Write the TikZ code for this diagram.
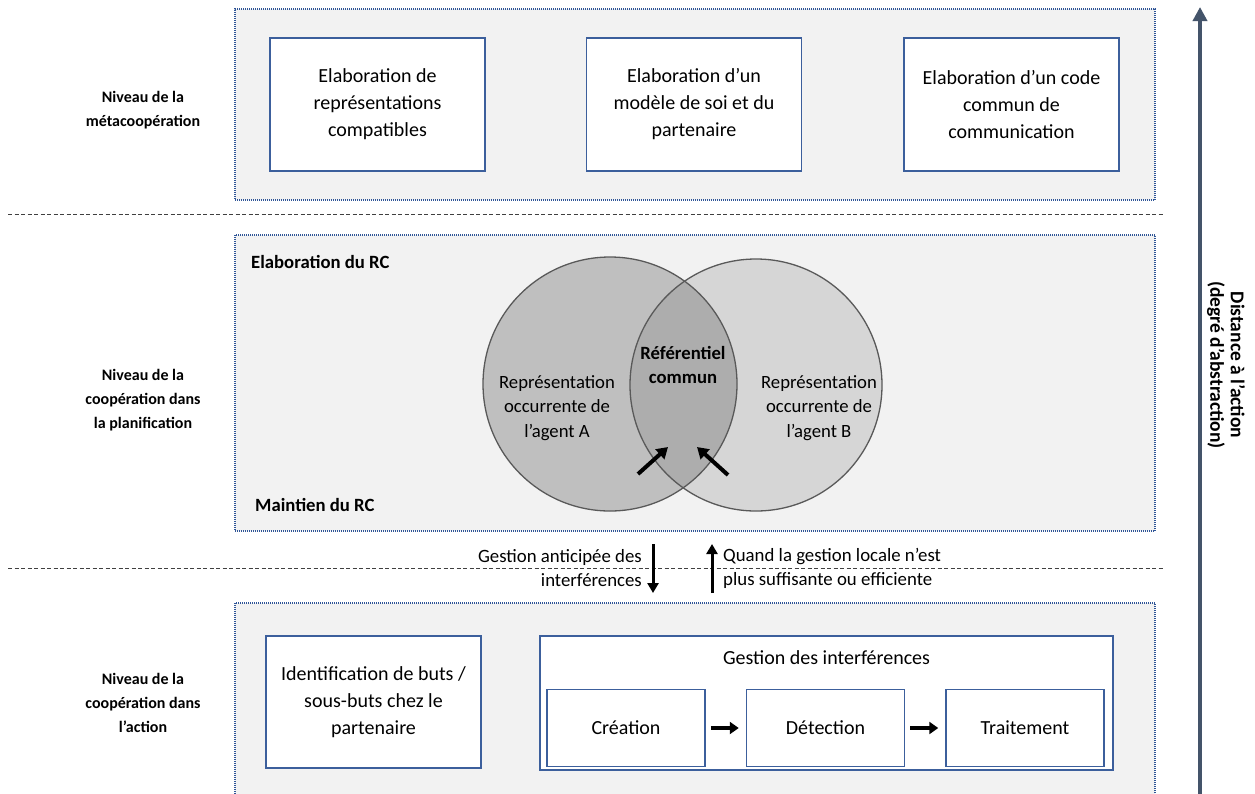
\documentclass[tikz,border=0pt]{standalone}
\usepackage{fontspec}
\setmainfont{Carlito}
\usetikzlibrary{arrows.meta}
\definecolor{panelfill}{HTML}{F2F2F2}
\definecolor{panelline}{HTML}{2F5597}
\definecolor{boxline}{HTML}{3C5F9C}
\definecolor{circline}{HTML}{595959}
\definecolor{circA}{HTML}{BFBFBF}
\definecolor{circB}{HTML}{D6D6D6}
\definecolor{circAB}{HTML}{ADADAD}
\definecolor{axiscol}{HTML}{44546A}
\definecolor{sepline}{HTML}{404040}
\begin{document}
\begin{tikzpicture}[x=1pt,y=-1pt,
  panel/.style={draw=panelline, fill=panelfill, line width=1.3pt, dash pattern=on 1pt off 1pt, inner sep=0pt},
  box/.style={draw=boxline, fill=white, line width=1.5pt, inner sep=2pt, align=center, font=\fontsize{20}{27}\selectfont},
  lvl/.style={align=center, font=\fontsize{16}{24}\selectfont\bfseries},
  txt/.style={align=center, font=\fontsize{18.7}{24.5}\selectfont, inner sep=0pt},
  sep/.style={draw=sepline, line width=1pt, dash pattern=on 4pt off 2.5pt},
  bigarrow/.style={line width=4pt, -{Triangle[width=13pt,length=11pt]}},
  midarrow/.style={line width=3pt, -{Triangle[width=11pt,length=10pt]}},
  flowarrow/.style={line width=4.5pt, -{Triangle[width=12pt,length=9pt]}}
]
\useasboundingbox (0,0) rectangle (1255,793);
\fill[white] (0,0) rectangle (1255,793);

% panels
\node[panel, minimum width=920pt, minimum height=191pt] (p1) at (695,104.5) {};
\node[panel, minimum width=920pt, minimum height=296pt] (p2) at (695,383) {};
\node[panel, minimum width=920pt, minimum height=196pt] (p3) at (695,701) {};

% separators
\coordinate (s1a) at (8,214); \coordinate (s1b) at (1163,214);
\coordinate (s2a) at (8,568); \coordinate (s2b) at (1163,568);
\draw[sep] (s1a) -- (s1b);
\draw[sep] (s2a) -- (s2b);

% level labels
\node[lvl] (l1) at (143,110) {Niveau de la\\métacoopération};
\node[lvl] (l2) at (143,400) {Niveau de la\\coopération dans\\la planification};
\node[lvl] (l3) at (143,703) {Niveau de la\\coopération dans\\l’action};

% top boxes
\node[box, minimum width=215pt, minimum height=133pt] (b1) at (377.5,104.5) {Elaboration de\\représentations\\compatibles};
\node[box, minimum width=215pt, minimum height=133pt] (b2) at (694,104.5) {Elaboration d’un\\modèle de soi et du\\partenaire};
\node[box, minimum width=215pt, minimum height=133pt] (b3) at (1011.5,104.5) {Elaboration d’un code\\commun de\\communication};

% middle panel labels
\node[lvl, anchor=west, inner sep=0pt, font=\fontsize{18.7}{24}\selectfont\bfseries] (elab) at (251,262) {Elaboration du RC};
\node[lvl, anchor=west, inner sep=0pt, font=\fontsize{18.7}{24}\selectfont\bfseries] (maint) at (255,505) {Maintien du RC};

% Venn
\coordinate (cA) at (610,384);
\coordinate (cB) at (756,385);
\fill[circA] (cA) circle[radius=127];
\fill[circB] (cB) circle[radius=126];
\begin{scope}
  \clip (cA) circle[radius=127];
  \fill[circAB] (cB) circle[radius=126];
\end{scope}
\draw[circline, line width=1.3pt] (cA) circle[radius=127];
\draw[circline, line width=1.3pt] (cB) circle[radius=126];
\node[txt, font=\fontsize{18.7}{24.5}\selectfont\bfseries] (rc) at (683,365) {Référentiel\\commun};
\node[txt] (ra) at (557,408) {Représentation\\occurrente de\\l’agent A};
\node[txt] (rb) at (819,408) {Représentation\\occurrente de\\l’agent B};
\coordinate (a1s) at (638,474); \coordinate (a1e) at (668,447);
\coordinate (a2s) at (728,475); \coordinate (a2e) at (697,447);
\draw[bigarrow] (a1s) -- (a1e);
\draw[bigarrow] (a2s) -- (a2e);

% between middle and bottom
\coordinate (d1s) at (653,544); \coordinate (d1e) at (653,593);
\coordinate (u1s) at (712,593); \coordinate (u1e) at (712,544);
\draw[midarrow] (d1s) -- (d1e);
\draw[midarrow] (u1s) -- (u1e);
\node[txt, align=right, anchor=east, font=\fontsize{18.8}{24}\selectfont] (ga) at (642,568) {Gestion anticipée des\\interférences};
\node[txt, align=left, anchor=west, font=\fontsize{18.8}{24}\selectfont] (qg) at (723,568) {Quand la gestion locale n’est\\plus suffisante ou efficiente};

% bottom
\node[box, minimum width=215pt, minimum height=132pt] (id) at (373.5,702) {Identification de buts /\\sous-buts chez le\\partenaire};
\node[box, minimum width=573pt, minimum height=134pt] (gi) at (826.5,703) {};
\node[txt, font=\fontsize{20}{24}\selectfont] (gil) at (826.5,658) {Gestion des interférences};
\node[box, minimum width=158pt, minimum height=77pt] (cre) at (626,728) {Création};
\node[box, minimum width=158pt, minimum height=77pt] (det) at (825.5,728) {Détection};
\node[box, minimum width=158pt, minimum height=77pt] (tra) at (1025,728) {Traitement};
\draw[flowarrow] ([xshift=5pt]cre.east) -- ([xshift=-7pt]det.west);
\draw[flowarrow] ([xshift=5pt]det.east) -- ([xshift=-7pt]tra.west);

% axis arrow
\coordinate (axb) at (1200,796);
\coordinate (axt) at (1200,7);
\draw[axiscol, line width=4pt, -{Triangle[width=14pt,length=14pt]}] (axb) -- (axt);
\node[rotate=-90, align=center, font=\fontsize{19.5}{20.5}\selectfont\bfseries] (axlab) at (1226,365) {Distance à l’action\\(degré d’abstraction)};
\end{tikzpicture}
\end{document}
